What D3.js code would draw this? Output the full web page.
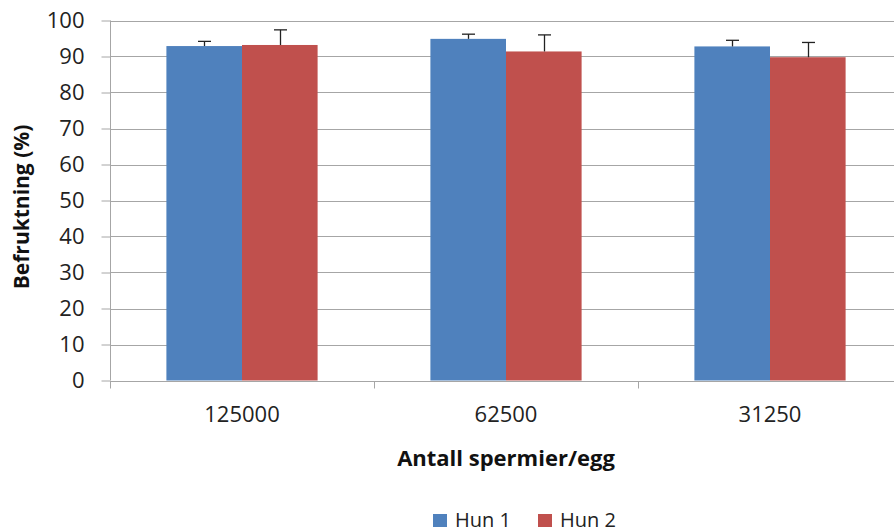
<!DOCTYPE html>
<html>
<head>
<meta charset="utf-8">
<script src="https://cdn.jsdelivr.net/npm/d3@7/dist/d3.min.js"></script>
<style>
  body { margin: 0; background: #fff; }
  svg { display: block; font-family: "Open Sans", sans-serif; }
</style>
</head>
<body>
<div id="chart"></div>
<script>
// data
const categories = ["125000", "62500", "31250"];
const seriesNames = ["Hun 1", "Hun 2"];
const seriesColors = ["#4f81bd", "#c0504d"];
const hun1 = [92.9, 94.9, 92.8];
const hun2 = [93.2, 91.4, 89.8];
const hun1Err = [1.3, 1.3, 1.7];
const hun2Err = [4.2, 4.6, 4.1];
const yTicks = [0, 10, 20, 30, 40, 50, 60, 70, 80, 90, 100];

const width = 894, height = 532;
const plot = { left: 110, right: 902, top: 20.5, bottom: 380.5 };

const svg = d3.select('#chart')
    .append('svg')
    .attr('width', width)
    .attr('height', height);

const x = d3.scaleBand()
    .domain(categories)
    .range([plot.left, plot.right]);

const xInner = d3.scaleBand()
    .domain(seriesNames)
    .range([0, x.bandwidth()])
    .paddingInner(0)
    .paddingOuter(0.746);

const y = d3.scaleLinear()
    .domain([0, 100])
    .range([plot.bottom, plot.top]);

const gridColor = '#a6a6a6';

// horizontal gridlines
svg.append('g')
    .selectAll('line')
    .data(yTicks.filter(d => d > 0))
    .enter()
    .append('line')
    .attr('x1', plot.left)
    .attr('x2', plot.right)
    .attr('y1', d => Math.round(y(d)) + 0.5)
    .attr('y2', d => Math.round(y(d)) + 0.5)
    .style('stroke', gridColor)
    .style('stroke-width', '1px');

// bars
const rows = [];
categories.forEach((c, i) => {
    rows.push({ cat: c, s: seriesNames[0], v: hun1[i], e: hun1Err[i], color: seriesColors[0] });
    rows.push({ cat: c, s: seriesNames[1], v: hun2[i], e: hun2Err[i], color: seriesColors[1] });
});

svg.append('g')
    .selectAll('rect')
    .data(rows)
    .enter()
    .append('rect')
    .attr('x', d => x(d.cat) + xInner(d.s))
    .attr('y', d => y(d.v))
    .attr('width', xInner.bandwidth())
    .attr('height', d => y(0) - y(d.v))
    .style('fill', d => d.color);

// error bars (upper only)
const err = svg.append('g')
    .selectAll('g')
    .data(rows)
    .enter()
    .append('g')
    .style('stroke', '#222')
    .style('stroke-width', '1.3px');

err.append('line')
    .attr('x1', d => Math.round(x(d.cat) + xInner(d.s) + xInner.bandwidth() / 2) + 0.5)
    .attr('x2', d => Math.round(x(d.cat) + xInner(d.s) + xInner.bandwidth() / 2) + 0.5)
    .attr('y1', d => y(d.v))
    .attr('y2', d => y(d.v + d.e));

err.append('line')
    .attr('x1', d => Math.round(x(d.cat) + xInner(d.s) + xInner.bandwidth() / 2) - 6)
    .attr('x2', d => Math.round(x(d.cat) + xInner(d.s) + xInner.bandwidth() / 2) + 7)
    .attr('y1', d => y(d.v + d.e))
    .attr('y2', d => y(d.v + d.e));

// y axis
const yAxis = svg.append('g')
    .attr('transform', `translate(${plot.left + 0.5},0)`)
    .call(d3.axisLeft(y).tickValues(yTicks).tickSize(9).tickPadding(17));
yAxis.selectAll('line, path').style('stroke', gridColor);
yAxis.select('.domain').attr('d', `M0,${plot.top}V${plot.bottom}`);
yAxis.selectAll('text')
    .style('font-family', '"Open Sans", sans-serif')
    .style('font-size', '22px')
    .style('fill', '#222');

// x axis with ticks at category boundaries
const xAxis = svg.append('g')
    .attr('transform', `translate(0,${Math.round(plot.bottom) + 0.5})`);
xAxis.append('line')
    .attr('x1', plot.left)
    .attr('x2', plot.right)
    .style('stroke', gridColor);
xAxis.selectAll('.bound')
    .data(categories.concat(['end']))
    .enter()
    .append('line')
    .attr('class', 'bound')
    .attr('x1', (d, i) => Math.round(plot.left + i * x.step()) + 0.5)
    .attr('x2', (d, i) => Math.round(plot.left + i * x.step()) + 0.5)
    .attr('y1', 0)
    .attr('y2', 7)
    .style('stroke', gridColor);
xAxis.selectAll('.lbl')
    .data(categories)
    .enter()
    .append('text')
    .attr('class', 'lbl')
    .attr('x', d => x(d) + x.bandwidth() / 2)
    .attr('y', 40)
    .attr('text-anchor', 'middle')
    .style('font-size', '22px')
    .style('fill', '#222')
    .text(d => d);

// axis titles
svg.append('text')
    .attr('x', 506)
    .attr('y', 466)
    .attr('text-anchor', 'middle')
    .style('font-size', '22px')
    .style('font-weight', 'bold')
    .style('fill', '#111')
    .text('Antall spermier/egg');

svg.append('text')
    .attr('transform', 'translate(29,207) rotate(-90)')
    .attr('text-anchor', 'middle')
    .style('font-size', '21px')
    .style('font-weight', 'bold')
    .style('fill', '#111')
    .text('Befruktning (%)');

// legend
const legendX = [433, 538];
const legend = svg.append('g')
    .selectAll('g')
    .data(seriesNames)
    .enter()
    .append('g')
    .attr('transform', (d, i) => `translate(${legendX[i]},514)`);
legend.append('rect')
    .attr('width', 14)
    .attr('height', 13)
    .style('fill', (d, i) => seriesColors[i]);
legend.append('text')
    .attr('x', 22)
    .attr('y', 13)
    .style('font-size', '20px')
    .style('fill', '#222')
    .text(d => d);
</script>
</body>
</html>
